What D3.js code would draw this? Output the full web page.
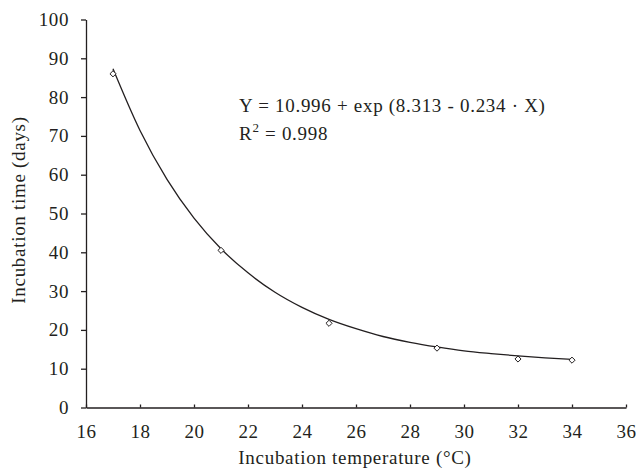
<!DOCTYPE html>
<html>
<head>
<meta charset="utf-8">
<script src="https://cdn.jsdelivr.net/npm/d3@7"></script>
<style>
  body { margin: 0; background: #fff; }
  svg { display: block; font-family: "Liberation Serif", "DejaVu Serif", serif; }
  .axis path, .axis line { stroke: #231f20; stroke-width: 1.3; }
  .axis text { fill: #231f20; font-size: 19px; letter-spacing: 0.6px; font-family: "Liberation Serif", serif; }
  .label { fill: #231f20; font-size: 19px; letter-spacing: 0.7px; }
</style>
</head>
<body>
<div id="chart"></div>
<script>
// measured incubation data
const temperatures = [17, 21, 25, 29, 32, 34];
const incubationDays = [86.0, 40.5, 21.7, 15.3, 12.5, 12.2];

// fitted curve
const curveX = [17, 18, 19, 20, 21, 22, 23, 24, 25, 26, 27, 28, 29, 30, 31, 32, 33, 34];
const curveY = [87.3, 71.4, 58.8, 48.8, 40.9, 34.7, 29.7, 25.8, 22.7, 20.3, 18.3, 16.8, 15.6, 14.6, 13.9, 13.3, 12.8, 12.4];

const xTicks = [16, 18, 20, 22, 24, 26, 28, 30, 32, 34, 36];
const yTicks = [0, 10, 20, 30, 40, 50, 60, 70, 80, 90, 100];

const totalWidth = 636;
const totalHeight = 474;
const plotLeft = 86, plotRight = 626, plotTop = 19.5, plotBottom = 407.5;

const svg = d3.select('#chart').append('svg')
    .attr('width', totalWidth)
    .attr('height', totalHeight);

const scaleX = d3.scaleLinear().domain([16, 36]).range([plotLeft, plotRight]);
const scaleY = d3.scaleLinear().domain([0, 100]).range([plotBottom, plotTop]);

svg.append('g')
    .attr('class', 'axis')
    .attr('transform', `translate(0, ${plotBottom})`)
    .call(d3.axisBottom(scaleX).tickValues(xTicks).tickSize(-3).tickSizeOuter(0).tickPadding(17))
    .selectAll('text').attr('dy', '0.71em');

svg.append('g')
    .attr('class', 'axis')
    .attr('transform', `translate(${plotLeft}, 0)`)
    .call(d3.axisLeft(scaleY).tickValues(yTicks).tickSize(5).tickSizeOuter(0).tickPadding(12));

svg.selectAll('.axis .domain').attr('stroke-width', 1.5);

const line = d3.line()
    .x((d, i) => scaleX(curveX[i]))
    .y(d => scaleY(d))
    .curve(d3.curveMonotoneX);

svg.append('path')
    .datum(curveY)
    .attr('fill', 'none')
    .attr('stroke', '#231f20')
    .attr('stroke-width', 1.3)
    .attr('d', line);

svg.selectAll('.pt')
    .data(incubationDays)
    .enter()
    .append('path')
    .attr('class', 'pt')
    .attr('transform', (d, i) => `translate(${scaleX(temperatures[i])}, ${scaleY(d)})`)
    .attr('d', d3.symbol(d3.symbolDiamond2, 24))
    .attr('fill', '#fff')
    .attr('stroke', '#231f20')
    .attr('stroke-width', 1);

svg.append('text')
    .attr('class', 'label')
    .attr('x', 239)
    .attr('y', 112)
    .text('Y = 10.996 + exp (8.313 - 0.234 · X)');

const r2 = svg.append('text')
    .attr('class', 'label')
    .attr('x', 239)
    .attr('y', 140);
r2.append('tspan').text('R');
r2.append('tspan').attr('dy', -8).attr('font-size', 13).text('2');
r2.append('tspan').attr('dy', 8).text(' = 0.998');

svg.append('text')
    .attr('class', 'label')
    .attr('x', 355)
    .attr('y', 464)
    .attr('text-anchor', 'middle')
    .text('Incubation temperature (°C)');

svg.append('text')
    .attr('class', 'label')
    .attr('transform', 'translate(25, 210) rotate(-90)')
    .attr('text-anchor', 'middle')
    .text('Incubation time (days)');
</script>
</body>
</html>
